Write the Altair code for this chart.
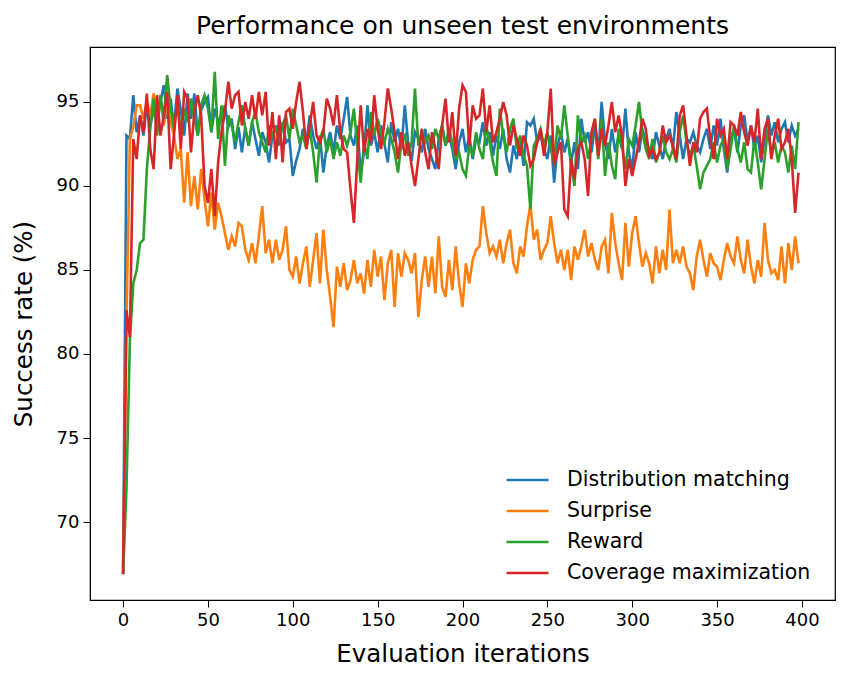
import altair as alt
import pandas as pd

iterations = list(range(0, 400, 2))

distribution_matching = [
    66.9, 93.0, 92.8, 95.4, 93.2, 94.2, 93.0, 94.8, 93.6, 94.5,
    93.8, 95.0, 96.0, 94.0, 95.2, 93.5, 95.8, 94.5, 93.0, 95.5,
    94.0, 95.5, 93.0, 94.5, 95.0, 95.3, 93.2, 94.6, 93.8, 94.2,
    94.8, 93.5, 94.0, 92.2, 93.5, 92.0, 93.5, 92.4, 93.8, 92.8,
    91.8, 93.2, 92.6, 91.4, 93.0, 93.6, 92.4, 93.8, 92.6, 92.8,
    90.6, 91.5, 92.2, 93.4, 92.6, 94.2, 93.0, 92.2, 93.0, 90.8,
    92.4, 93.2, 92.0, 93.6, 92.8, 94.0, 95.3, 93.0, 92.4, 93.6,
    90.8, 92.0, 94.8, 92.4, 93.2, 92.0, 93.6, 92.5, 91.4, 93.8,
    92.6, 93.4, 92.2, 94.8, 92.5, 91.5, 93.2, 92.8, 92.0, 93.4,
    92.2, 91.6, 91.0, 92.8, 93.6, 92.4, 93.0, 92.2, 91.0, 92.6,
    93.4, 92.0, 93.0, 91.6, 92.8, 92.6, 93.8, 92.4, 93.2, 91.8,
    93.0, 92.2, 93.4, 91.6, 90.8, 92.4, 91.6, 92.8, 91.2, 93.8,
    93.6, 94.0, 92.6, 93.0, 92.2, 91.6, 93.0, 90.2, 92.4, 93.2,
    92.0, 92.8, 91.4, 92.6, 91.0, 94.0, 92.6, 93.2, 92.0, 93.6,
    91.8, 95.0, 92.6, 91.6, 93.4, 92.0, 93.0, 92.2, 94.6, 92.0,
    91.0, 93.2, 92.0, 93.4, 92.6, 92.2, 91.6, 93.2, 92.4, 91.6,
    92.8, 93.4, 92.2, 94.4, 93.0, 91.6, 92.8, 92.6, 93.2, 92.4,
    92.0, 92.8, 93.4, 92.2, 93.6, 92.4, 94.0, 92.2, 90.8, 92.8,
    93.4, 92.0, 93.6, 94.2, 92.6, 93.6, 92.2, 93.0, 91.4, 92.8,
    94.2, 93.0, 93.8, 92.6, 93.4, 93.8, 92.6, 93.6, 93.0, 93.4,
]

surprise = [
    66.9, 82.0, 92.8, 93.5, 94.8, 94.8, 94.0, 95.0, 94.2, 95.5,
    94.5, 95.3, 93.6, 95.0, 93.8, 93.0, 91.6, 92.2, 89.0, 92.0,
    88.8, 90.6, 88.6, 91.0, 89.2, 87.6, 89.6, 87.4, 89.0, 88.2,
    87.2, 86.2, 87.0, 86.4, 87.8, 87.6, 86.2, 85.6, 86.6, 85.4,
    87.0, 88.8, 86.0, 86.8, 85.4, 86.8, 85.6, 86.2, 87.6, 85.0,
    84.6, 85.8, 84.2, 85.4, 86.4, 84.0, 85.6, 87.2, 84.2, 87.4,
    85.0, 83.4, 81.6, 85.2, 84.0, 85.4, 83.8, 84.4, 85.6, 84.2,
    84.8, 83.6, 85.6, 84.0, 86.2, 84.6, 85.8, 83.2, 85.4, 86.2,
    82.8, 86.0, 84.6, 86.0, 85.6, 84.8, 86.0, 82.2, 84.4, 85.8,
    84.0, 85.8, 83.6, 87.0, 84.0, 83.4, 85.6, 83.8, 86.4, 84.2,
    82.8, 85.4, 84.2, 85.6, 86.2, 86.4, 88.8, 87.2, 86.0, 86.4,
    85.8, 86.8, 85.4, 86.6, 87.4, 85.4, 84.8, 86.4, 85.8, 87.6,
    88.9, 86.8, 87.4, 85.6, 86.2, 86.6, 88.2, 86.6, 85.4, 86.2,
    85.0, 86.2, 84.4, 86.4, 85.6, 86.4, 87.4, 85.8, 86.6, 85.6,
    85.0, 86.4, 86.8, 84.8, 88.4, 86.6, 85.4, 84.4, 87.8, 85.2,
    87.2, 88.2, 86.6, 85.2, 86.0, 85.4, 84.2, 86.4, 84.8, 86.2,
    85.0, 88.6, 85.4, 86.2, 85.4, 86.4, 85.2, 84.8, 83.8, 85.8,
    86.8, 85.6, 84.6, 86.0, 85.4, 85.2, 84.4, 85.6, 86.6, 85.8,
    85.4, 87.0, 85.6, 84.8, 86.8, 85.2, 84.2, 85.6, 84.6, 87.8,
    85.6, 84.8, 85.0, 84.4, 86.4, 84.2, 86.6, 85.0, 87.0, 85.4,
]

reward = [
    66.9, 72.0, 80.8, 84.2, 85.0, 86.6, 86.8, 91.0, 93.4, 95.2,
    93.0, 95.4, 94.0, 96.6, 94.6, 93.4, 95.0, 93.2, 94.6, 93.8,
    95.2, 94.0, 93.0, 94.8, 95.4, 94.6, 93.2, 96.8, 92.8, 94.8,
    91.2, 94.2, 93.6, 92.6, 93.8, 94.8, 93.4, 92.4, 93.8, 94.4,
    93.2, 92.6, 92.0, 93.6, 93.0, 93.4, 92.8, 93.6, 94.2, 92.8,
    94.6, 93.6, 92.6, 93.0, 92.2, 93.4, 92.0, 90.2, 92.8, 93.4,
    92.0, 92.8, 91.6, 92.6, 91.8, 93.0, 92.4, 93.2, 94.6, 92.4,
    90.2, 92.6, 91.6, 94.4, 93.0, 94.0, 93.2, 92.6, 93.4, 92.8,
    92.0, 90.8, 92.6, 93.0, 91.8, 92.6, 95.8, 92.4, 93.2, 92.6,
    93.0, 92.2, 93.4, 92.8, 93.6, 92.4, 93.4, 92.6, 91.6, 92.0,
    91.0, 90.6, 92.4, 91.8, 93.2, 92.2, 91.6, 93.6, 92.6, 91.4,
    90.6, 94.6, 93.0, 92.0, 93.4, 94.0, 92.2, 93.0, 91.8, 91.2,
    88.6, 92.4, 92.8, 93.4, 92.4, 93.2, 92.2, 91.4, 93.6, 92.8,
    94.8, 93.0, 91.2, 90.0, 94.2, 92.6, 93.0, 91.6, 92.8, 94.0,
    91.6, 94.0, 90.6, 92.6, 91.2, 90.4, 93.4, 92.4, 91.0, 92.8,
    92.4, 93.6, 95.0, 93.2, 92.2, 91.6, 92.8, 91.4, 92.0, 93.0,
    92.0, 91.6, 92.2, 91.4, 93.2, 94.2, 92.6, 91.8, 92.4, 91.2,
    89.8, 90.8, 91.2, 91.6, 92.6, 91.4, 92.4, 92.8, 91.0, 92.2,
    93.6, 92.2, 91.4, 92.6, 91.0, 90.8, 92.8, 91.4, 89.8, 91.6,
    93.4, 91.8, 92.6, 91.4, 92.4, 92.0, 90.8, 92.4, 91.0, 93.8,
]

coverage_maximization = [
    66.9, 82.6, 81.0, 92.8, 91.6, 94.2, 93.2, 95.5, 92.2, 91.0,
    95.4, 93.0, 94.2, 95.6, 91.0, 93.0, 95.4, 92.2, 95.6, 95.2,
    92.0, 94.4, 95.4, 94.2, 90.0, 89.0, 91.0, 88.2, 91.4, 93.2,
    94.4, 96.2, 94.6, 95.4, 95.6, 93.6, 95.0, 94.0, 95.4, 94.0,
    95.6, 94.2, 95.6, 92.4, 94.4, 91.6, 94.2, 91.4, 94.4, 94.6,
    93.4, 95.0, 96.2, 94.4, 92.2, 93.6, 95.0, 93.0, 92.6, 93.2,
    95.2, 94.6, 93.6, 95.4, 93.2, 92.2, 92.0, 89.8, 87.8, 91.6,
    94.8, 92.0, 93.4, 92.6, 95.4, 93.4, 92.2, 93.8, 95.8, 94.6,
    93.2, 91.6, 93.2, 91.8, 92.6, 91.2, 90.0, 91.6, 93.4, 92.0,
    91.0, 93.2, 92.2, 91.0, 93.6, 95.2, 92.6, 94.4, 91.8, 94.6,
    96.0, 95.6, 92.4, 94.8, 94.0, 94.2, 95.8, 93.2, 94.8, 92.6,
    93.2, 94.0, 95.0, 94.2, 92.4, 93.6, 92.8, 91.8, 93.0, 92.4,
    91.2, 91.6, 92.6, 93.4, 91.8, 93.2, 95.8, 91.2, 92.0, 92.6,
    88.6, 88.2, 91.6, 90.4, 92.2, 92.6, 91.6, 89.4, 93.2, 94.0,
    91.8, 93.4, 92.4, 93.6, 95.0, 93.2, 94.2, 93.0, 90.0, 91.6,
    90.6, 91.6, 92.6, 94.0, 93.4, 91.8, 92.2, 91.6, 92.0, 93.6,
    92.6, 93.0, 92.4, 91.6, 94.2, 94.8, 93.0, 91.2, 92.6, 92.0,
    94.0, 94.4, 94.6, 92.8, 91.6, 94.0, 93.0, 93.4, 91.6, 93.8,
    93.6, 93.0, 94.4, 93.2, 92.4, 93.6, 92.6, 94.6, 91.6, 93.4,
    94.0, 91.6, 93.0, 94.0, 92.2, 92.6, 93.4, 91.6, 88.4, 90.8,
]

series_names = ["Distribution matching", "Surprise", "Reward", "Coverage maximization"]
series_colors = ["#1f77b4", "#ff7f0e", "#2ca02c", "#d62728"]
x_ticks = [0, 50, 100, 150, 200, 250, 300, 350, 400]
y_ticks = [70, 75, 80, 85, 90, 95]

all_series = [distribution_matching, surprise, reward, coverage_maximization]
rows = []
for name, vals in zip(series_names, all_series):
    for it, v in zip(iterations, vals):
        rows.append({"iteration": it, "success": v, "method": name})
df = pd.DataFrame(rows)

x_enc = alt.X(
    "iteration:Q",
    scale=alt.Scale(domain=[-19.5, 419.5], nice=False, zero=False),
    axis=alt.Axis(values=x_ticks, title="Evaluation iterations", grid=False,
                  labelFontSize=18, titleFontSize=24.5, titleFontWeight="normal",
                  tickSize=7, labelPadding=4, titlePadding=13,
                  domainColor="black", tickColor="black", labelColor="black",
                  titleColor="black", format="d"),
)
y_enc = alt.Y(
    "success:Q",
    scale=alt.Scale(domain=[65.36, 98.27], nice=False, zero=False),
    axis=alt.Axis(values=y_ticks, title="Success rate (%)", grid=False,
                  labelFontSize=18, titleFontSize=24.5, titleFontWeight="normal",
                  tickSize=7, labelPadding=4, titlePadding=20,
                  domainColor="black", tickColor="black", labelColor="black",
                  titleColor="black", format="d"),
)
color_enc = alt.Color(
    "method:N",
    scale=alt.Scale(domain=series_names, range=series_colors),
    legend=alt.Legend(
        title=None, orient="none", legendX=415, legendY=421,
        symbolType="M-1,0H3", symbolSize=441, symbolStrokeWidth=2.6,
        labelFontSize=20.5, labelOffset=38, labelLimit=0, rowPadding=8,
        labelColor="black",
    ),
)

layers = []
for name in series_names:
    layers.append(
        alt.Chart(df)
        .transform_filter(alt.datum.method == name)
        .mark_line(strokeWidth=2.6, clip=True)
        .encode(x=x_enc, y=y_enc, color=color_enc)
    )

chart = (
    alt.layer(*layers)
    .properties(
        width=745,
        height=553,
        title=alt.TitleParams("Performance on unseen test environments",
                              fontSize=25, fontWeight="normal", color="black",
                              anchor="middle", offset=8),
        padding={"left": 90, "top": 47, "right": 20, "bottom": 84},
        autosize="none",
    )
    .configure(font="DejaVu Sans")
    .configure_view(stroke="black", strokeWidth=1.2)
)

chart.save("out.html", embed_options={"renderer": "svg", "actions": False})
